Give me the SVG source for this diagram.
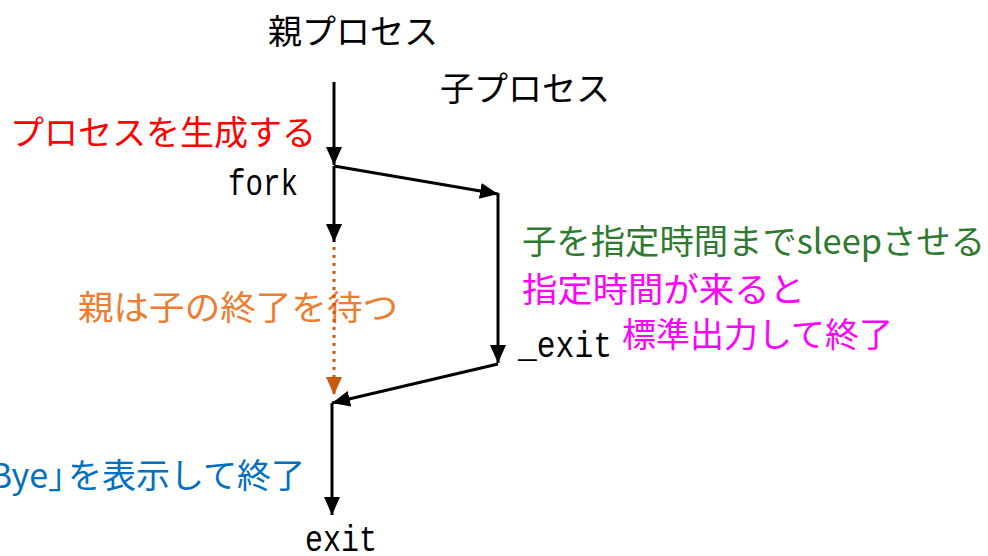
<svg xmlns="http://www.w3.org/2000/svg" width="988" height="556" viewBox="0 0 988 556">
<style>
.jp{font-family:"Noto Sans CJK JP","Noto Sans",sans-serif;font-size:34px}
.mono{font-family:"Liberation Mono","DejaVu Sans Mono",monospace;font-size:36px;fill:#000}
.ln{stroke:#000;stroke-width:3;fill:none}
.dot{stroke:#C55A11;stroke-width:3;fill:none;stroke-dasharray:3 5}
</style>
<defs>
<marker id="ah" markerUnits="userSpaceOnUse" markerWidth="20" markerHeight="16" refX="18" refY="8" orient="auto"><path d="M0,0 L18,8 L0,16 Z" fill="#000"/></marker>
<marker id="ao" markerUnits="userSpaceOnUse" markerWidth="20" markerHeight="16" refX="18" refY="8" orient="auto"><path d="M0,0 L18,8 L0,16 Z" fill="#C55A11"/></marker>
</defs>
<rect width="988" height="556" fill="#fff"/>
<g id="parent-title"><text class="jp" x="268" y="44" fill="#000">親プロセス</text></g>
<g id="child-title"><text class="jp" x="440" y="101" fill="#000">子プロセス</text></g>
<g id="create-label"><text class="jp" x="316" y="145" text-anchor="end" fill="#FF0000">プロセスを生成する</text></g>
<g id="fork"><text class="mono" x="228" y="195" textLength="70" lengthAdjust="spacingAndGlyphs">fork</text></g>
<g id="sleep-label"><text class="jp" x="522" y="254" fill="#2E7A2E" textLength="463" lengthAdjust="spacingAndGlyphs">子を指定時間までsleepさせる</text></g>
<g id="time-label"><text class="jp" x="522" y="302" fill="#FF00FF" textLength="283" lengthAdjust="spacingAndGlyphs">指定時間が来ると</text></g>
<g id="print-label"><text class="jp" x="622" y="347" fill="#FF00FF" textLength="271" lengthAdjust="spacingAndGlyphs">標準出力して終了</text></g>
<g id="child-exit"><text class="mono" x="518" y="357" textLength="94" lengthAdjust="spacingAndGlyphs">_exit</text></g>
<g id="wait-label"><text class="jp" x="78" y="320" fill="#ED7D31" textLength="320" lengthAdjust="spacingAndGlyphs">親は子の終了を待つ</text></g>
<g id="bye-label"><text class="jp" x="305" y="488" text-anchor="end" fill="#0070C0">「Bye」<tspan dx="-14">を表示して終了</tspan></text></g>
<g id="parent-exit"><text class="mono" x="305" y="551" textLength="72" lengthAdjust="spacingAndGlyphs">exit</text></g>
<g id="connectors">
<line class="ln" x1="334" y1="82" x2="334" y2="165" marker-end="url(#ah)"/>
<line class="ln" x1="334" y1="166" x2="498" y2="194" marker-end="url(#ah)"/>
<line class="ln" x1="334" y1="166" x2="334" y2="242" marker-end="url(#ah)"/>
<line class="ln" x1="498" y1="193" x2="498" y2="363" marker-end="url(#ah)"/>
<line class="dot" x1="334" y1="247" x2="334" y2="395" marker-end="url(#ao)"/>
<line class="ln" x1="498" y1="364" x2="332" y2="403" marker-end="url(#ah)"/>
<line class="ln" x1="332" y1="403" x2="332" y2="515" marker-end="url(#ah)"/>
</g>
</svg>
